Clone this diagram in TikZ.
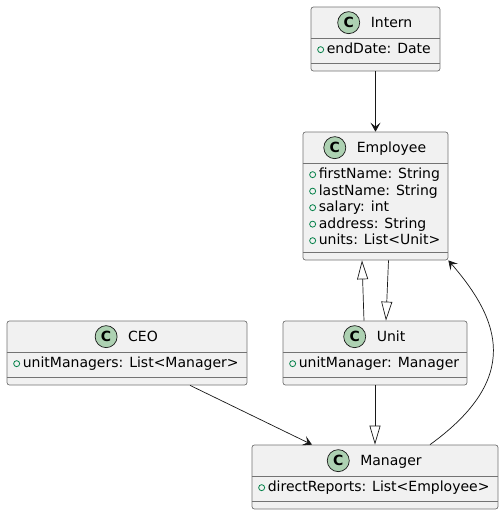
\documentclass[tikz,border=0pt]{standalone}
\usepackage{fontspec}
\setmainfont{DejaVu Sans}
\usetikzlibrary{arrows.meta, positioning, calc}

\definecolor{umlfill}{HTML}{F1F1F1}
\definecolor{umlicon}{HTML}{ADD1B2}
\definecolor{umlattr}{HTML}{038048}
\definecolor{umlline}{HTML}{181818}

\begin{document}
\begin{tikzpicture}[
    x=1pt, y=-1pt,
    >={Stealth[length=9pt, width=10pt, inset=4pt]},
    % Core styles
    classbox/.style={
        draw=black!55, fill=umlfill, line width=0.7pt,
        rounded corners=2.5pt, inner sep=0pt
    },
    classname/.style={
        inner sep=0pt, text height=10pt, text depth=0pt,
        font=\fontsize{14}{16}\selectfont
    },
    classicon/.style={
        circle, draw=umlline, fill=umlicon, line width=0.7pt,
        minimum size=22pt, inner sep=0pt,
        font=\fontsize{14}{14}\selectfont\bfseries
    },
    sepline/.style={draw=black!55, line width=0.7pt},
    attrtext/.style={anchor=base west, inner sep=0pt, font=\fontsize{14}{16}\selectfont},
    attrmark/.style={circle, draw=umlattr, line width=0.8pt, minimum size=6pt, inner sep=0pt},
    assoc/.style={->, draw=umlline, line width=0.7pt},
    inherit/.style={-{Triangle[length=19pt, width=11pt, fill=white]}, draw=umlline, line width=0.7pt}
]

\useasboundingbox[fill=white] (0,0) rectangle (504,515);

% === CLASS BOXES ===
\node[classbox, minimum width=129pt, minimum height=64pt] (intern) at (375.5,39) {};
\node[classbox, minimum width=145pt, minimum height=128pt] (employee) at (375.5,196) {};
\node[classbox, minimum width=240pt, minimum height=64pt] (ceo) at (127,353) {};
\node[classbox, minimum width=184pt, minimum height=64pt] (unit) at (375,353) {};
\node[classbox, minimum width=246pt, minimum height=64pt] (manager) at (375,477) {};

% === HEADERS (icon + name) ===
\node[classname] (internname) at ($(intern.north)+(16,16)$) {Intern};
\node[classicon, left=10.5pt of internname] (interncirc) {C};
\node[classname] (employeename) at ($(employee.north)+(16,16)$) {Employee};
\node[classicon, left=10.5pt of employeename] (employeecirc) {C};
\node[classname] (ceoname) at ($(ceo.north)+(16,16)$) {CEO};
\node[classicon, left=10.5pt of ceoname] (ceocirc) {C};
\node[classname] (unitname) at ($(unit.north)+(16,16)$) {Unit};
\node[classicon, left=10.5pt of unitname] (unitcirc) {C};
\node[classname] (managername) at ($(manager.north)+(16,16)$) {Manager};
\node[classicon, left=10.5pt of managername] (managercirc) {C};

% Compartment separators
\foreach \c in {intern, employee, ceo, unit, manager} {
    \draw[sepline] ($(\c.north west)+(0,32)$) -- ($(\c.north east)+(0,32)$);
    \draw[sepline] ($(\c.south west)+(0,-8)$) -- ($(\c.south east)+(0,-8)$);
}

% === ATTRIBUTES ===
\node[attrmark] (internmark1) at ($(intern.north west)+(10,43)$) {};
\node[attrtext] (internattr1) at ($(intern.north west)+(16,47)$) {endDate: Date};

\foreach \a [count=\i] in {{firstName: String}, {lastName: String}, {salary: int},
                           {address: String}, {units: List<Unit>}} {
    \node[attrmark] (employeemark\i) at ($(employee.north west)+(10,26.5+16.5*\i)$) {};
    \node[attrtext] (employeeattr\i) at ($(employee.north west)+(16,30.5+16.5*\i)$) {\a};
}

\node[attrmark] (ceomark1) at ($(ceo.north west)+(10,43)$) {};
\node[attrtext] (ceoattr1) at ($(ceo.north west)+(16,47)$) {unitManagers: List<Manager>};

\node[attrmark] (unitmark1) at ($(unit.north west)+(10,43)$) {};
\node[attrtext] (unitattr1) at ($(unit.north west)+(16,47)$) {unitManager: Manager};

\node[attrmark] (managermark1) at ($(manager.north west)+(10,43)$) {};
\node[attrtext] (managerattr1) at ($(manager.north west)+(16,47)$) {directReports: List<Employee>};

% === RELATIONS ===
\draw[assoc] (intern.south) -- (employee.north);
\draw[inherit] ([xshift=-11pt]unit.north) -- ([xshift=-13.5pt]employee.south);
\draw[inherit] ([xshift=13pt]employee.south) -- ([xshift=11pt]unit.north);
\draw[inherit] (unit.south) -- (manager.north);
\draw[assoc] ([xshift=63pt]ceo.south) -- ([xshift=-63pt]manager.north);
\draw[assoc] ([xshift=55pt]manager.north) .. controls (522,378) and (500,320) .. (employee.south east);

\end{tikzpicture}
\end{document}
